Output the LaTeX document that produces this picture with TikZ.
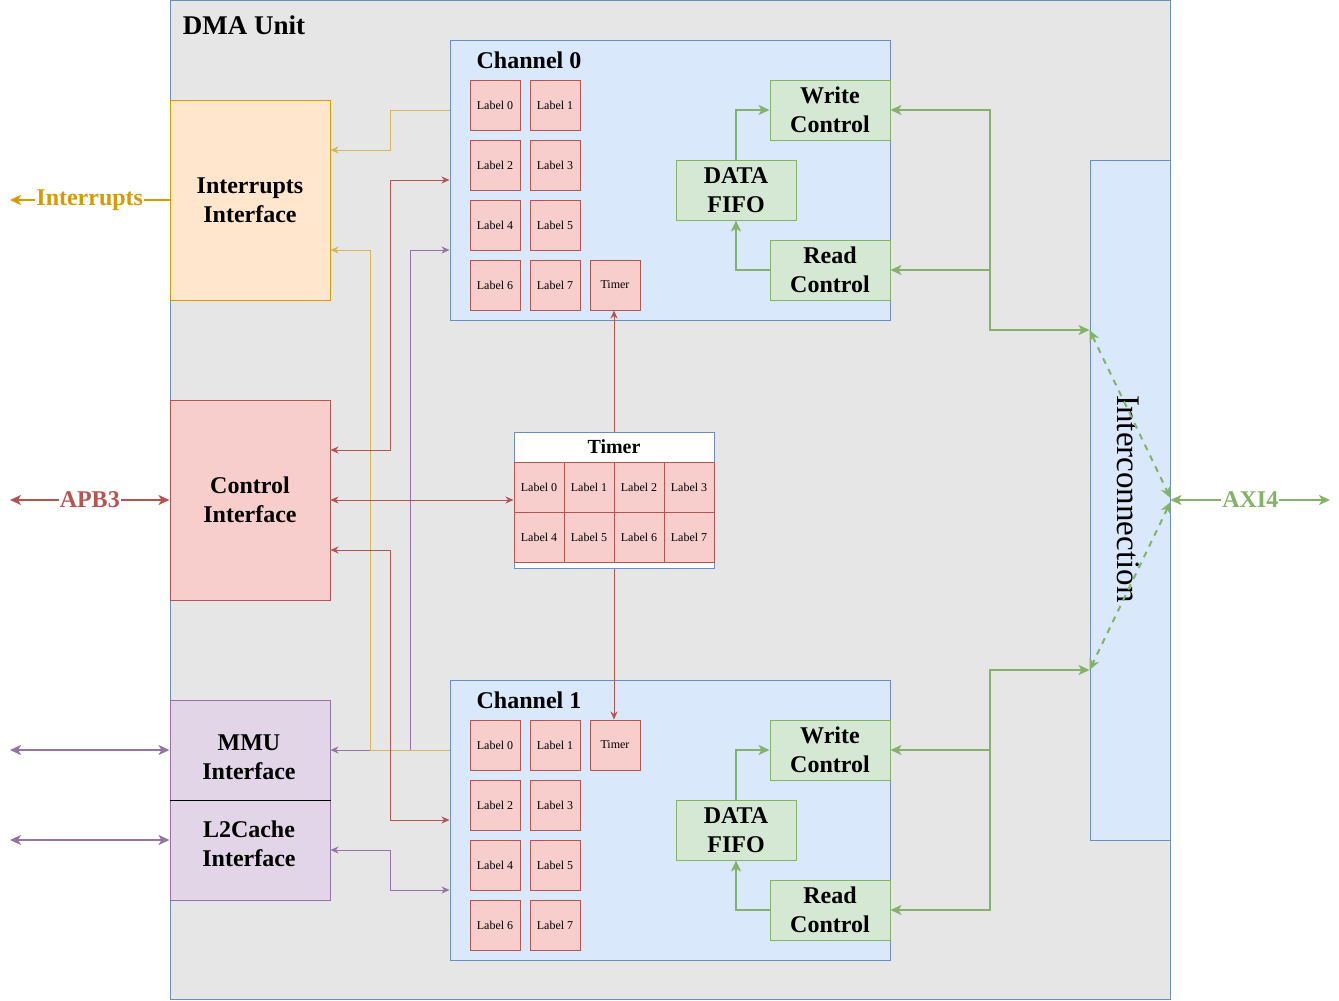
\documentclass[tikz,border=0pt]{standalone}
\usepackage{fontspec}
\setmainfont{Liberation Serif}
\usetikzlibrary{arrows.meta,calc}
\definecolor{dgray}{HTML}{E6E6E6}
\definecolor{bfill}{HTML}{DAE8FC}
\definecolor{bline}{HTML}{6C8EBF}
\definecolor{ofill}{HTML}{FFE6CC}
\definecolor{oline}{HTML}{D79B00}
\definecolor{yline}{HTML}{D6B656}
\definecolor{rfill}{HTML}{F8CECC}
\definecolor{rline}{HTML}{B85450}
\definecolor{pfill}{HTML}{E1D5E7}
\definecolor{pline}{HTML}{9673A6}
\definecolor{gfill}{HTML}{D5E8D4}
\definecolor{gline}{HTML}{82B366}
\tikzset{
  ta/.tip={Stealth[length=8pt,width=7pt,inset=2.5pt]},
  tb/.tip={Stealth[length=11pt,width=10pt,inset=3pt]},
  box/.style={draw, rectangle, inner sep=0pt, line width=1pt, align=center},
  bt/.style={font=\bfseries\fontsize{24}{29}\selectfont},
  cell/.style={box, draw=rline, fill=rfill, minimum width=50pt, minimum height=50pt, font=\fontsize{12}{14}\selectfont},
  gbox/.style={box, draw=gline, fill=gfill, minimum width=120pt, minimum height=60pt, bt},
  chan/.style={box, draw=bline, fill=bfill, minimum width=440pt, minimum height=280pt},
  thinl/.style={line width=1pt},
  thickl/.style={line width=2pt},
  lbl/.style={fill=white, inner sep=1pt, bt}
}
\begin{document}
\begin{tikzpicture}[x=1pt,y=-1pt]
\useasboundingbox (0,0) rectangle (1339,1001);
% outer unit
\node[box, draw=bline, fill=dgray, minimum width=1000pt, minimum height=999pt] (dma) at (670,500) {};
\node[font=\bfseries\fontsize{27}{32}\selectfont, inner sep=0pt] (dmat) at (244,25) {DMA Unit};

% interfaces
\node[box, draw=oline, fill=ofill, minimum width=160pt, minimum height=200pt, bt] (intr) at (250,200) {Interrupts\\Interface};
\node[box, draw=rline, fill=rfill, minimum width=160pt, minimum height=200pt, bt] (ctrl) at (250,500) {Control\\Interface};
\node[box, draw=pline, fill=pfill, minimum width=160pt, minimum height=100pt] (mmu) at (250,750) {};
\node[box, draw=pline, fill=pfill, minimum width=160pt, minimum height=100pt] (l2) at (250,850) {};
\draw[line width=1pt, black] (mmu.south west) -- (mmu.south east);
\node[bt, align=center, inner sep=0pt] (mmut) at (249,757) {MMU\\Interface};
\node[bt, align=center, inner sep=0pt] (l2t) at (249,844) {L2Cache\\Interface};

% interconnection
\node[box, draw=bline, fill=bfill, minimum width=80pt, minimum height=680pt] (ic) at (1130,500) {};
\node[rotate=-90, font=\fontsize{33}{38}\selectfont, inner sep=0pt] (ict) at (1128,499) {Interconnection};

% channel 0
\node[chan] (ch0) at (670,180) {};
\node[bt, inner sep=0pt] (ch0t) at (529,60) {Channel 0};
\node[cell] (a0) at (495,105) {Label 0};
\node[cell] (a1) at (555,105) {Label 1};
\node[cell] (a2) at (495,165) {Label 2};
\node[cell] (a3) at (555,165) {Label 3};
\node[cell] (a4) at (495,225) {Label 4};
\node[cell] (a5) at (555,225) {Label 5};
\node[cell] (a6) at (495,285) {Label 6};
\node[cell] (a7) at (555,285) {Label 7};
\node[cell] (t0) at (615,285) {Timer};
\node[gbox] (wc0) at (830,110) {Write\\Control};
\node[gbox] (rc0) at (830,270) {Read\\Control};
\node[gbox] (ff0) at (736,190) {DATA\\FIFO};

% channel 1
\node[chan] (ch1) at (670,820) {};
\node[bt, inner sep=0pt] (ch1t) at (529,700) {Channel 1};
\node[cell] (b0) at (495,745) {Label 0};
\node[cell] (b1) at (555,745) {Label 1};
\node[cell] (t1) at (615,745) {Timer};
\node[cell] (b2) at (495,805) {Label 2};
\node[cell] (b3) at (555,805) {Label 3};
\node[cell] (b4) at (495,865) {Label 4};
\node[cell] (b5) at (555,865) {Label 5};
\node[cell] (b6) at (495,925) {Label 6};
\node[cell] (b7) at (555,925) {Label 7};
\node[gbox] (wc1) at (830,750) {Write\\Control};
\node[gbox] (rc1) at (830,910) {Read\\Control};
\node[gbox] (ff1) at (736,830) {DATA\\FIFO};

% timer table
\node[box, draw=bline, fill=white, minimum width=200pt, minimum height=136pt] (tt) at (614,500) {};
\node[font=\bfseries\fontsize{20}{24}\selectfont, inner sep=0pt] (ttt) at (614,447) {Timer};
\node[cell] (c0) at (539,487) {Label 0};
\node[cell] (c1) at (589,487) {Label 1};
\node[cell] (c2) at (639,487) {Label 2};
\node[cell] (c3) at (689,487) {Label 3};
\node[cell] (c4) at (539,537) {Label 4};
\node[cell] (c5) at (589,537) {Label 5};
\node[cell] (c6) at (639,537) {Label 6};
\node[cell] (c7) at (689,537) {Label 7};

% fifo arrows
\draw[thickl, gline, -{tb}] (ff0.north) |- (wc0.west);
\draw[thickl, gline, -{tb}] (rc0.west) -| (ff0.south);
\draw[thickl, gline, -{tb}] (ff1.north) |- (wc1.west);
\draw[thickl, gline, -{tb}] (rc1.west) -| (ff1.south);

% purple connectors
\draw[thinl, pline, {ta}-{ta}] (ch0.west |- 0,250) -- (410,250) -- (410,750) -- (mmu.east);
\draw[thinl, pline, {ta}-{ta}] (l2.east |- 0,850) -- (390,850) -- (390,890) -- (ch1.west |- 0,890);
% yellow connectors
\draw[thinl, yline, -{ta}] (ch0.west |- 0,110) -- (390,110) -- (390,150) -- (intr.east |- 0,150);
\draw[thinl, yline, -{ta}] (ch1.west |- 0,750) -- (370,750) -- (370,250) -- (intr.east |- 0,250);
% red connectors
\draw[thinl, rline, {ta}-{ta}] (ctrl.east |- 0,450) -- (390,450) -- (390,180) -- (ch0.west |- 0,180);
\draw[thinl, rline, {ta}-{ta}] (ctrl.east |- 0,550) -- (390,550) -- (390,820) -- (ch1.west |- 0,820);
\draw[thinl, rline, {ta}-{ta}] (ctrl.east) -- (tt.west);
\draw[thinl, rline, -{ta}] (tt.north) -- (tt.north |- t0.south);
\draw[thinl, rline, -{ta}] (tt.south) -- (tt.south |- t1.north);

% green bus connectors
\draw[thickl, gline, {tb}-{tb}] (wc0.east) -| (990,330) -- (ic.west |- 0,330);
\draw[thickl, gline, -{tb}] (990,270) -- (rc0.east);
\draw[thickl, gline, {tb}-{tb}] (rc1.east) -| (990,670) -- (ic.west |- 0,670);
\draw[thickl, gline, -{tb}] (990,750) -- (wc1.east);
\draw[thickl, gline, dash pattern=on 6pt off 6pt, {tb}-{tb}] (ic.west |- 0,330) -- (ic.east |- 0,498);
\draw[thickl, gline, dash pattern=on 6pt off 6pt, {tb}-{tb}] (ic.east |- 0,502) -- (ic.west |- 0,670);

% external connectors
\draw[thickl, oline, -{tb}] (intr.west) -- (10,200) node[midway, lbl, text=oline] (intrl) {Interrupts};
\draw[thickl, rline, {tb}-{tb}] (ctrl.west) -- (10,500) node[midway, lbl, text=rline] (apbl) {APB3};
\draw[thickl, pline, {tb}-{tb}] (mmu.west) -- (10,750);
\draw[thickl, pline, {tb}-{tb}] (l2.west |- 0,840) -- (10,840);
\draw[thickl, gline, {tb}-{tb}] (ic.east) -- (1330,500) node[midway, lbl, text=gline] (axil) {AXI4};
\end{tikzpicture}
\end{document}
